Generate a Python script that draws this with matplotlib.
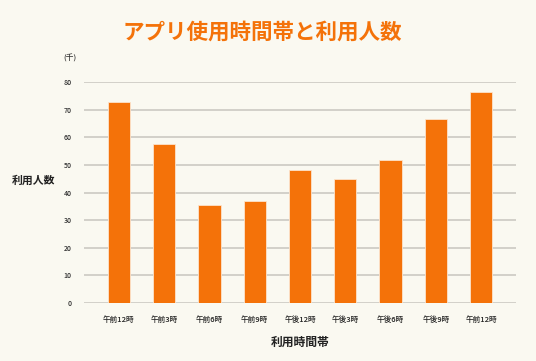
import matplotlib.pyplot as plt

plt.rcParams['font.family'] = ['Noto Sans CJK JP', 'DejaVu Sans']

time_slots = ['午前12時', '午前3時', '午前6時', '午前9時', '午後12時',
              '午後3時', '午後6時', '午後9時', '午前12時']
users = [72.6, 57.7, 35.3, 36.8, 48.2, 44.8, 51.9, 66.6, 76.2]
yticks = [0, 10, 20, 30, 40, 50, 60, 70, 80]

bg = '#faf9f1'
orange = '#f47209'

fig = plt.figure(figsize=(5.36, 3.61), dpi=100, facecolor=bg)
ax = fig.add_axes([84/536, 1 - 303/361, 432/536, 221/361])
ax.set_facecolor(bg)

x = range(len(users))
ax.bar(x, users, width=0.49, color=orange, edgecolor='#fde3cc', linewidth=0.6, zorder=3)

ax.set_ylim(0, 80)
ax.set_xlim(-0.77, 8.77)
ax.set_yticks(yticks)
ax.set_yticklabels([str(v) for v in yticks], fontsize=5, color='#333333', fontweight='medium')
ax.set_xticks(list(x))
ax.set_xticklabels(time_slots, fontsize=5.5, color='#222222', fontweight='medium')
ax.tick_params(axis='both', length=0)
ax.tick_params(axis='y', pad=9)
ax.tick_params(axis='x', pad=9)
ax.grid(axis='y', color='#cfcdc6', linewidth=1.3, zorder=0)
for s in ax.spines.values():
    s.set_visible(False)

fig.text(262/536, 1 - 32/361, 'アプリ使用時間帯と利用人数', ha='center', va='center',
         fontsize=15.5, fontweight='bold', color=orange)
fig.text(70/536, 1 - 59/361, '(千)', ha='center', va='center', fontsize=5.5,
         color='#333333', fontweight='medium')
fig.text(33/536, 1 - 181/361, '利用人数', ha='center', va='center',
         fontsize=7.8, fontweight='bold', color='#222222')
fig.text(300/536, 1 - 342/361, '利用時間帯', ha='center', va='center',
         fontsize=8.5, fontweight='bold', color='#222222')

fig.savefig('out.png', dpi=100, facecolor=bg)
